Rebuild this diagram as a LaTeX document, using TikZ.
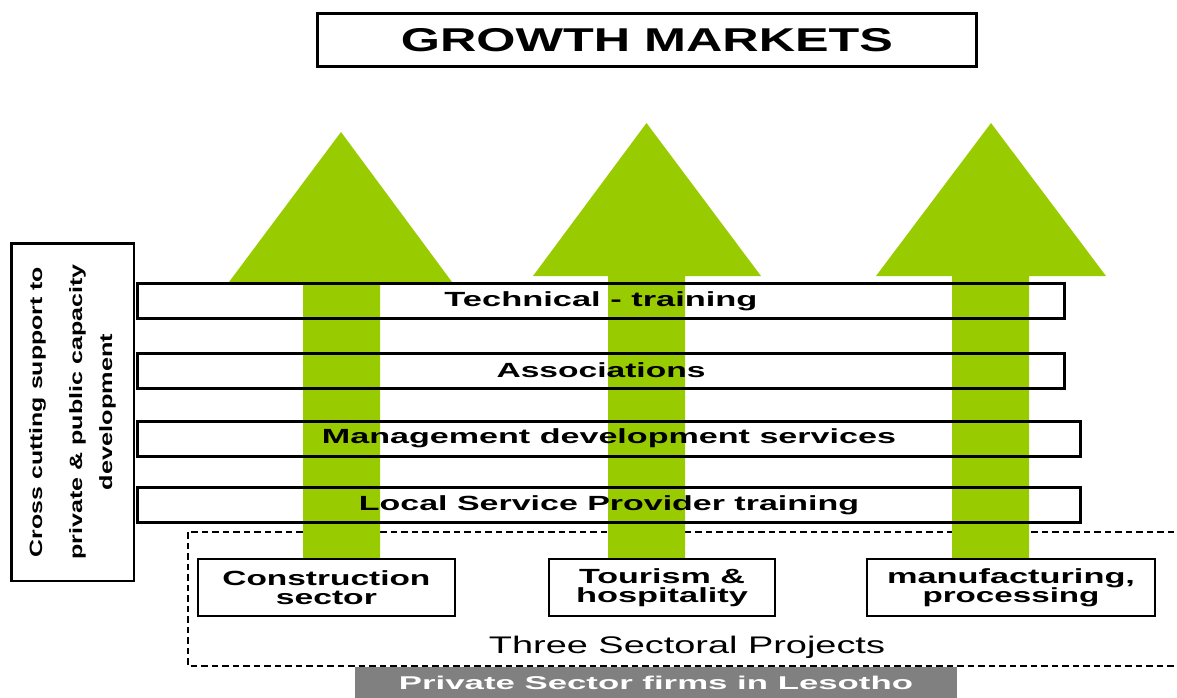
\documentclass[tikz,border=0pt]{standalone}
\usepackage{fontspec}
\usepackage{graphicx}
\setmainfont{Liberation Sans}
\newfontfamily\plainsans{Liberation Sans}
\newsavebox\fitbox
\newcommand\fitw[2]{\sbox\fitbox{#2}\resizebox{#1}{\ht\fitbox}{\usebox\fitbox}}
\definecolor{arrowgreen}{HTML}{99CC00}
\definecolor{bargray}{HTML}{808080}
\begin{document}
\begin{tikzpicture}[x=1pt,y=-1pt,
  titlebox/.style={draw=black,line width=3pt,inner sep=0pt,minimum width=658.5pt,minimum height=53pt,
    font=\plainsans\bfseries\fontsize{33}{36}\selectfont},
  barbox/.style={draw=black,line width=3pt,inner sep=0pt,minimum height=35pt,
    font=\plainsans\bfseries\fontsize{20.5}{22}\selectfont},
  secbox/.style={draw=black,fill=white,line width=2pt,inner sep=0pt,minimum height=57pt,align=center,
    font=\plainsans\bfseries\fontsize{20.5}{19.5}\selectfont},
  sidebox/.style={draw=black,line width=2.5pt,inner sep=0pt,rotate=90,minimum width=337.5pt,minimum height=122.5pt,align=center,
    font=\plainsans\bfseries\fontsize{17.8}{30}\selectfont},
  graybar/.style={fill=bargray,inner sep=0pt,minimum width=602pt,minimum height=32pt,text=white,
    font=\plainsans\bfseries\fontsize{18.5}{20}\selectfont},
  projframe/.style={draw=black,line width=2pt,dash pattern=on 6.5pt off 4pt},
  growarrow/.style={fill=arrowgreen}
]
\useasboundingbox (0,0) rectangle (1177,698);

% dashed frame of the sectoral projects (open to the right)
\draw[projframe] (1195,531.5) -- (187.5,531.5) -- (187.5,665.5) -- (1195,665.5);

% gray base bar
\node[graybar] (firms) at (656,683) {\fitw{514pt}{Private Sector firms in Lesotho}};

% growth arrows
\fill[growarrow] (303,558) -- (303,282) -- (229,282) -- (341,132) -- (452,282) -- (380,282) -- (380,558) -- cycle;
\fill[growarrow] (608,558) -- (608,276) -- (533,276) -- (646.5,123) -- (761,276) -- (685,276) -- (685,558) -- cycle;
\fill[growarrow] (952,558) -- (952,276) -- (876,276) -- (991,123) -- (1106,276) -- (1029,276) -- (1029,558) -- cycle;

% title
\node[titlebox] (title) at (647,40) {\fitw{492pt}{GROWTH MARKETS}};

% horizontal support bars
\node[barbox,minimum width=927pt] (tech) at (601,301) {\fitw{313pt}{Technical - training}};
\node[barbox,minimum width=927pt] (assoc) at (601,370.5) {\fitw{209pt}{Associations}};
\node[barbox,minimum width=943pt] (mgmt) at (609,438.5) {\fitw{574pt}{Management development services}};
\node[barbox,minimum width=943pt] (lsp) at (609,505) {\fitw{500pt}{Local Service Provider training}};

% left cross-cutting box
\node[sidebox] (cross) at (72.5,412) {\fitw{290pt}{Cross cutting support to}\\[10pt] \fitw{295pt}{private \& public capacity}\\ \fitw{156pt}{development}};

% sector boxes
\node[secbox,minimum width=257pt] (constr) at (326.4,587.5) {\fitw{208pt}{Construction}\\ \fitw{101pt}{sector}};
\node[secbox,minimum width=226pt] (tour) at (662,587.5) {\fitw{166pt}{Tourism \&}\\ \fitw{172pt}{hospitality}};
\node[secbox,minimum width=288pt] (manu) at (1011,587.5) {\fitw{248pt}{manufacturing,}\\ \fitw{177pt}{processing}};

% label of the dashed frame
\node[anchor=base,inner sep=0pt,font=\plainsans\fontsize{24}{26}\selectfont] (proj) at (687,653) {\fitw{396pt}{Three Sectoral Projects}};
\end{tikzpicture}
\end{document}
